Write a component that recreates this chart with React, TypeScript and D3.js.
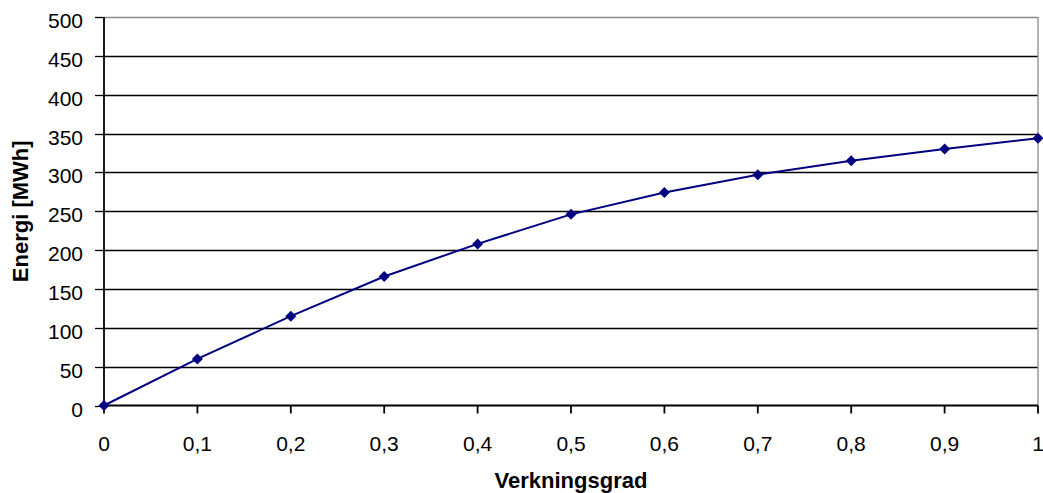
import * as d3 from 'd3';
import {useEffect, useRef} from 'react';

const efficiency = [0, 0.1, 0.2, 0.3, 0.4, 0.5, 0.6, 0.7, 0.8, 0.9, 1];
const energy = [0, 60, 115, 166, 208, 246, 274, 297, 315, 330, 344];
const yTicks = [0, 50, 100, 150, 200, 250, 300, 350, 400, 450, 500];
const xTicks = [0, 0.1, 0.2, 0.3, 0.4, 0.5, 0.6, 0.7, 0.8, 0.9, 1];

export default function App() {
  const ref = useRef<SVGSVGElement>(null);

  useEffect(() => {
    const svg = d3.select(ref.current);
    svg.selectAll('*').remove();

    const w = 1043, h = 493;
    const margin = {top: 17, right: 4, bottom: 87, left: 104};
    const font = 'Arial, "Liberation Sans", Helvetica, sans-serif';

    const x = d3.scaleLinear().domain([0, 1]).range([margin.left, w - margin.right - 1]);
    const y = d3.scaleLinear().domain([0, 500]).range([h - margin.bottom - 0.5, margin.top]);

    const g = svg.append('g');

    // grid lines (top one is the gray frame)
    g.selectAll('line.grid')
      .data(yTicks.filter(t => t > 0))
      .enter()
      .append('line')
      .attr('x1', x(0)).attr('x2', x(1))
      .attr('y1', d => Math.round(y(d)) + 0.5).attr('y2', d => Math.round(y(d)) + 0.5)
      .attr('stroke', d => d === 500 ? '#8c8c8c' : '#000')
      .attr('stroke-width', 1.3);

    // right border
    g.append('line')
      .attr('x1', x(1)).attr('x2', x(1))
      .attr('y1', y(500)).attr('y2', y(0))
      .attr('stroke', '#8c8c8c').attr('stroke-width', 1.3);

    // y axis
    g.append('line')
      .attr('x1', x(0)).attr('x2', x(0))
      .attr('y1', y(500)).attr('y2', y(0))
      .attr('stroke', '#000').attr('stroke-width', 1.8);
    g.selectAll('line.ytick')
      .data(yTicks)
      .enter()
      .append('line')
      .attr('x1', x(0) - 9).attr('x2', x(0))
      .attr('y1', d => Math.round(y(d)) + 0.5).attr('y2', d => Math.round(y(d)) + 0.5)
      .attr('stroke', '#000').attr('stroke-width', 1.3);
    g.selectAll('text.ylab')
      .data(yTicks)
      .enter()
      .append('text')
      .attr('x', x(0) - 21)
      .attr('y', d => y(d) + 11)
      .attr('text-anchor', 'end')
      .attr('font-family', font)
      .attr('font-size', '21px')
      .attr('fill', '#000')
      .text(d => String(d));

    // x axis
    g.append('line')
      .attr('x1', x(0)).attr('x2', x(1))
      .attr('y1', y(0)).attr('y2', y(0))
      .attr('stroke', '#000').attr('stroke-width', 1.8);
    g.selectAll('line.xtick')
      .data(xTicks)
      .enter()
      .append('line')
      .attr('x1', d => x(d)).attr('x2', d => x(d))
      .attr('y1', y(0)).attr('y2', y(0) + 8)
      .attr('stroke', '#000').attr('stroke-width', 1.8);
    g.selectAll('text.xlab')
      .data(xTicks)
      .enter()
      .append('text')
      .attr('x', d => x(d))
      .attr('y', y(0) + 45)
      .attr('text-anchor', 'middle')
      .attr('font-family', font)
      .attr('font-size', '21px')
      .attr('fill', '#000')
      .text(d => String(d).replace('.', ','));

    // titles
    g.append('text')
      .attr('x', (x(0) + x(1)) / 2)
      .attr('y', 488)
      .attr('text-anchor', 'middle')
      .attr('font-family', font)
      .attr('font-weight', 'bold')
      .attr('font-size', '22px')
      .text('Verkningsgrad');
    g.append('text')
      .attr('transform', `translate(28, ${(y(0) + y(500)) / 2}) rotate(-90)`)
      .attr('text-anchor', 'middle')
      .attr('font-family', font)
      .attr('font-weight', 'bold')
      .attr('font-size', '22px')
      .text('Energi [MWh]');

    // series
    const pts = efficiency.map((e, i) => [e, energy[i]] as [number, number]);
    const line = d3.line<[number, number]>().x(d => x(d[0])).y(d => y(d[1]));
    g.append('path')
      .datum(pts)
      .attr('d', line)
      .attr('fill', 'none')
      .attr('stroke', '#000080')
      .attr('stroke-width', 2);

    // square diamonds
    const r = 5.5;
    g.selectAll('path.pt')
      .data(pts)
      .enter()
      .append('path')
      .attr('d', `M0,${-r}L${r},0L0,${r}L${-r},0Z`)
      .attr('transform', d => `translate(${x(d[0])},${y(d[1])})`)
      .attr('fill', '#000080');
  }, []);

  return (
    <>
      <style>{'body{margin:0}'}</style>
      <svg ref={ref} width={1043} height={493} style={{display: 'block', background: '#fff'}} />
    </>
  );
}
